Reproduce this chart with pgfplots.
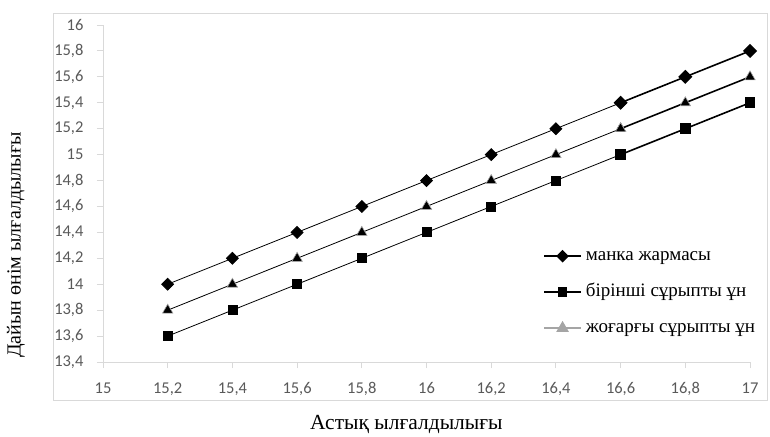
\documentclass[border=0pt]{standalone}
\usepackage{pgfplots}
\pgfplotsset{compat=1.18}
\usepackage{fontspec}
\setmainfont{Liberation Serif}
\newfontfamily\tickfont{Carlito}
\newcommand\ticksz{\tickfont\fontsize{16.5pt}{18pt}\selectfont}
\newcommand\legsz{\rmfamily\fontsize{19pt}{21pt}\selectfont}
\newcommand\titlesz{\rmfamily\fontsize{21.5pt}{24pt}\selectfont}
\newcommand\ytitlesz{\rmfamily\fontsize{20pt}{22pt}\selectfont}
\definecolor{axgray}{RGB}{217,217,217}
\definecolor{ticktext}{RGB}{89,89,89}
\definecolor{trigray}{RGB}{165,165,165}

\begin{document}
\begin{tikzpicture}
\begin{axis}[
  scale only axis,
  width=647pt, height=337pt,
  xmin=15, xmax=17, ymin=13.4, ymax=16,
  xtick={15,15.2,...,17.01}, ytick={13.4,13.6,...,16.01},
  axis x line*=bottom, axis y line*=left,
  axis line style={axgray, line width=0.9pt, -},
  tick style={axgray, line width=0.9pt},
  tick align=outside, major tick length=6pt,
  tick label style={font=\ticksz, text=ticktext},
  /pgf/number format/assume math mode=true,
  /pgf/number format/use comma,
  /pgf/number format/fixed,
  /pgf/number format/precision=1,
  xticklabel style={yshift=-11pt},
  yticklabel style={xshift=-10pt},
  clip=false,
  legend style={draw=none, fill=none, inner sep=0pt,
    at={(axis description cs:0.680,0.3398)}, anchor=north west,
    font=\legsz, row sep=19pt, column sep=4pt,
    nodes={inner sep=0pt, text height=13pt, text depth=4pt},
    legend cell align=left},
  legend image code/.code={%
    \draw[mark repeat=2, mark phase=2] plot coordinates {(0pt,0pt)(18.5pt,0pt)(37pt,0pt)};},
]
% chart frame and axis titles
\draw[axgray, line width=0.9pt] (axis description cs:-0.0773,-0.1128) rectangle (axis description cs:1.0263,1.0356);
\node[font=\titlesz] at (axis description cs:0.469,-0.184) {Астық ылғалдылығы};
\node[font=\ytitlesz, rotate=90] at (axis description cs:-0.1345,0.347) {Дайын өнім ылғалдылығы};
\path (axis description cs:-0.1592,-0.2166) rectangle (axis description cs:1.0309,1.0742);

% манка жармасы
\addplot[black, line width=0.8pt, mark=square*, mark size=4.2pt, mark options={rotate=45}, forget plot]
  coordinates {(15.2,14.0)(15.4,14.2)(15.6,14.4)(15.8,14.6)(16.0,14.8)(16.2,15.0)(16.4,15.2)(16.6,15.4)};
\addplot[black, line width=1.6pt, mark=square*, mark size=4.2pt, mark options={rotate=45}, forget plot]
  coordinates {(16.6,15.4)(16.8,15.6)(17.0,15.8)};
% бірінші сұрыпты ұн
\addplot[black, line width=0.8pt, mark=square*, mark size=4.5pt, forget plot]
  coordinates {(15.2,13.6)(15.4,13.8)(15.6,14.0)(15.8,14.2)(16.0,14.4)(16.2,14.6)(16.4,14.8)(16.6,15.0)};
\addplot[black, line width=1.6pt, mark=square*, mark size=4.5pt, forget plot]
  coordinates {(16.6,15.0)(16.8,15.2)(17.0,15.4)};
% жоғарғы сұрыпты ұн
\addplot[black, line width=0.8pt, mark=triangle*, mark size=6pt, mark options={fill=black, draw=trigray, line width=0.6pt}, forget plot]
  coordinates {(15.2,13.8)(15.4,14.0)(15.6,14.2)(15.8,14.4)(16.0,14.6)(16.2,14.8)(16.4,15.0)(16.6,15.2)};
\addplot[black, line width=1.6pt, mark=triangle*, mark size=6pt, mark options={fill=black, draw=trigray, line width=0.6pt}, forget plot]
  coordinates {(16.6,15.2)(16.8,15.4)(17.0,15.6)};

\addlegendimage{black, line width=1.8pt, mark=square*, mark size=3.6pt, mark options={rotate=45}}
\addlegendentry{манка жармасы}
\addlegendimage{black, line width=1.8pt, mark=square*, mark size=3.8pt}
\addlegendentry{бірінші сұрыпты ұн}
\addlegendimage{trigray, line width=1.8pt, mark=triangle*, mark size=5.5pt}
\addlegendentry{жоғарғы сұрыпты ұн}
\end{axis}
\end{tikzpicture}
\end{document}
